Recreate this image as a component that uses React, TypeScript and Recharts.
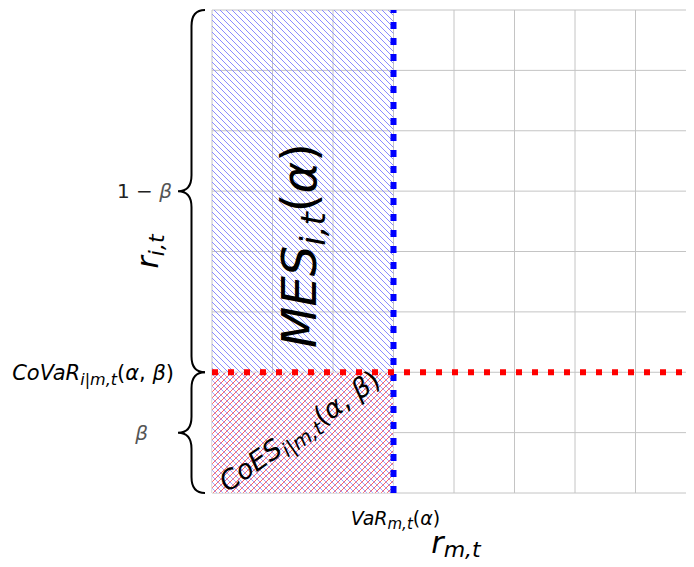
import {
  ComposedChart,
  XAxis,
  YAxis,
  CartesianGrid,
  ReferenceArea,
  ReferenceLine,
} from "recharts";

// unit grid, 8 x 8 cells
const gridTicks = [0, 1, 2, 3, 4, 5, 6, 7, 8];
const corners = [
  { x: 0, y: 0 },
  { x: 8, y: 8 },
];
// VaR of the market (vertical) and CoVaR of institution i (horizontal)
const varX = 3;
const covarY = 2;

const FONT = "'DejaVu Sans', 'Liberation Sans', sans-serif";

function bracePath(xr: number, top: number, bottom: number, depth = 27, r = 16) {
  const xm = xr - depth / 2;
  const xt = xr - depth;
  const mid = (top + bottom) / 2;
  return (
    `M${xr},${top} Q${xm},${top} ${xm},${top + r} ` +
    `L${xm},${mid - r} Q${xm},${mid} ${xt},${mid} ` +
    `Q${xm},${mid} ${xm},${mid + r} L${xm},${bottom - r} ` +
    `Q${xm},${bottom} ${xr},${bottom}`
  );
}

function UpperBrace(props: any) {
  const { x, y, height } = props;
  const xr = x - 7;
  const mid = y + height / 2;
  return (
    <g>
      <path d={bracePath(xr, y, y + height)} fill="none" stroke="#000" strokeWidth={2} />
      <text x={xr - 33} y={mid + 7} textAnchor="end" fontFamily={FONT} fontSize={20} fill="#222">
        1 − <tspan fontStyle="italic" fill="#555">β</tspan>
      </text>
    </g>
  );
}

function LowerBrace(props: any) {
  const { x, y, height } = props;
  const xr = x - 7;
  const mid = y + height / 2;
  return (
    <g>
      <path d={bracePath(xr, y, y + height)} fill="none" stroke="#000" strokeWidth={2} />
      <text x={xr - 57} y={mid + 7} textAnchor="end" fontFamily={FONT} fontSize={20} fontStyle="italic" fill="#555">
        β
      </text>
      <text x={x - 38} y={y + 8} textAnchor="end" fontFamily={FONT} fontSize={21} fill="#000">
        <tspan fontStyle="italic">CoVaR</tspan>
        <tspan fontStyle="italic" fontSize={16} dy={5}>i|m,t</tspan>
        <tspan dy={-5}>(</tspan>
        <tspan fontStyle="italic">α</tspan>, <tspan fontStyle="italic">β</tspan>)
      </text>
    </g>
  );
}

function AxisTitles(props: any) {
  const { x, y, width, height } = props;
  const cx = x + width / 2;
  const cy = y + height / 2;
  return (
    <g fontFamily={FONT} fill="#000">
      <text x={cx + 2} y={y + height + 60} textAnchor="middle" fontSize={30} fontStyle="italic">
        r<tspan fontSize={22} dy={4}>m,t</tspan>
      </text>
      <text
        x={x - 54}
        y={cy}
        textAnchor="middle"
        fontSize={30}
        fontStyle="italic"
        transform={`rotate(-90, ${x - 54}, ${cy})`}
      >
        r<tspan fontSize={22} dy={6}>i,t</tspan>
      </text>
    </g>
  );
}

function MesLabel({ viewBox }: any) {
  const { x, y, width, height } = viewBox;
  const bx = x + width / 2 + 13;
  const cy = y + height / 2 - 6;
  return (
    <text
      x={bx}
      y={cy}
      textAnchor="middle"
      fontFamily={FONT}
      fontSize={48}
      fontStyle="italic"
      fill="#000"
      transform={`rotate(-90, ${bx}, ${cy})`}
    >
      MES<tspan fontSize={34} dy={9}>i,t</tspan>
      <tspan fontStyle="normal" dy={-9}>(</tspan>α<tspan fontStyle="normal">)</tspan>
    </text>
  );
}

function CoesLabel({ viewBox }: any) {
  const { x, y, width, height } = viewBox;
  const cx = x + width / 2 + 2;
  const cy = y + height / 2 + 6;
  return (
    <text
      x={cx}
      y={cy}
      textAnchor="middle"
      fontFamily={FONT}
      fontSize={27}
      fill="#000"
      transform={`rotate(-35, ${cx}, ${cy})`}
    >
      <tspan fontStyle="italic">CoES</tspan>
      <tspan fontStyle="italic" fontSize={20} dy={6}>i|m,t</tspan>
      <tspan dy={-6}>(</tspan>
      <tspan fontStyle="italic">α</tspan>, <tspan fontStyle="italic">β</tspan>)
    </text>
  );
}

function VarLabel({ viewBox }: any) {
  const { x, y, height } = viewBox;
  return (
    <text x={x + 2} y={y + height + 32} textAnchor="middle" fontFamily={FONT} fontSize={19} fill="#000">
      <tspan fontStyle="italic">VaR</tspan>
      <tspan fontStyle="italic" fontSize={15} dy={4}>m,t</tspan>
      <tspan dy={-4}>(</tspan>
      <tspan fontStyle="italic">α</tspan>)
    </text>
  );
}

export default function App() {
  return (
    <div style={{ width: 686, height: 559, overflow: "hidden", marginBottom: -8 }}>
      <ComposedChart
        width={688}
        height={559}
        data={corners}
        margin={{ top: 2, right: 0, bottom: 74, left: 204 }}
      >
        <defs>
          <pattern id="mesHatch" width={6} height={6} patternUnits="userSpaceOnUse">
            <path
              d="M-1.5,-1.5 L7.5,7.5 M-1.5,4.5 L1.5,7.5 M4.5,-1.5 L7.5,1.5"
              stroke="#8c8cff"
              strokeWidth={1}
              shapeRendering="crispEdges"
            />
          </pattern>
          <pattern id="coesHatch" width={6} height={6} patternUnits="userSpaceOnUse">
            <rect width={6} height={6} fill="#ffffff" />
            <path
              d="M-1.5,-1.5 L7.5,7.5 M-1.5,4.5 L1.5,7.5 M4.5,-1.5 L7.5,1.5"
              stroke="#a0a0ff"
              strokeWidth={1}
              shapeRendering="crispEdges"
            />
            <path
              d="M-1.5,7.5 L7.5,-1.5 M-1.5,1.5 L1.5,-1.5 M4.5,7.5 L7.5,4.5"
              stroke="#ff6464"
              strokeWidth={1}
              shapeRendering="crispEdges"
            />
          </pattern>
        </defs>
        <XAxis dataKey="x" type="number" domain={[0, 8]} ticks={gridTicks} hide />
        <YAxis dataKey="y" type="number" domain={[0, 8]} ticks={gridTicks} hide />
        <CartesianGrid stroke="#c4c4c4" strokeWidth={1} />

        <ReferenceArea
          x1={0}
          x2={varX}
          y1={covarY}
          y2={8}
          fill="url(#mesHatch)"
          fillOpacity={1}
          stroke="none"
          ifOverflow="visible"
          label={(p: any) => <MesLabel viewBox={{ ...p.viewBox, height: p.viewBox.height * 4 / 3 }} />}
        />
        <ReferenceArea
          x1={0}
          x2={varX}
          y1={0}
          y2={covarY}
          fill="url(#coesHatch)"
          fillOpacity={1}
          stroke="#e0e0e0"
          strokeOpacity={0.5}
          ifOverflow="visible"
          label={(p: any) => <CoesLabel viewBox={p.viewBox} />}
        />
        <ReferenceArea y1={covarY} y2={8} ifOverflow="visible" shape={(p: any) => <UpperBrace {...p} />} />
        <ReferenceArea y1={0} y2={covarY} ifOverflow="visible" shape={(p: any) => <LowerBrace {...p} />} />
        <ReferenceArea x1={0} x2={8} y1={0} y2={8} ifOverflow="visible" shape={(p: any) => <AxisTitles {...p} />} />

        <ReferenceLine
          x={varX}
          stroke="#0000ff"
          strokeWidth={6}
          strokeDasharray="7 9"
          label={(p: any) => <VarLabel viewBox={p.viewBox} />}
        />
        <ReferenceLine y={covarY} stroke="#ff0000" strokeWidth={6} strokeDasharray="6 10" />
      </ComposedChart>
    </div>
  );
}
